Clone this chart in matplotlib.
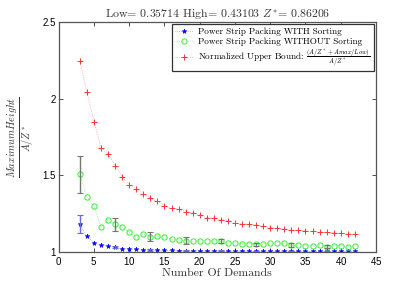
import matplotlib
matplotlib.use("Agg")
import matplotlib.pyplot as plt

# data
demands = list(range(3, 43))

with_sorting = [1.181, 1.104, 1.057, 1.046, 1.040, 1.031, 1.022, 1.020, 1.017, 1.015,
                1.013, 1.012, 1.011, 1.010, 1.009, 1.009, 1.008, 1.008, 1.008, 1.007,
                1.007, 1.007, 1.007, 1.007, 1.006, 1.006, 1.006, 1.006, 1.006, 1.006,
                1.006, 1.006, 1.005, 1.005, 1.005, 1.005, 1.005, 1.005, 1.005, 1.005]

without_sorting = [1.507, 1.361, 1.302, 1.165, 1.211, 1.181, 1.163, 1.128, 1.098, 1.115,
                   1.100, 1.104, 1.098, 1.083, 1.078, 1.074, 1.070, 1.072, 1.072, 1.074,
                   1.070, 1.061, 1.061, 1.052, 1.054, 1.050, 1.052, 1.057, 1.061, 1.057,
                   1.044, 1.046, 1.041, 1.041, 1.048, 1.033, 1.039, 1.041, 1.035, 1.039]

upper_bound = [2.246, 2.045, 1.850, 1.680, 1.640, 1.563, 1.490, 1.440, 1.410, 1.380,
               1.350, 1.330, 1.302, 1.285, 1.279, 1.259, 1.257, 1.241, 1.224, 1.220,
               1.211, 1.205, 1.188, 1.183, 1.181, 1.177, 1.168, 1.159, 1.154, 1.148,
               1.144, 1.141, 1.139, 1.135, 1.128, 1.128, 1.126, 1.122, 1.117, 1.117]

err_x = [3, 8, 13, 18, 23, 28, 33, 38]
err_with = [0.060, 0.008, 0.005, 0.004, 0.003, 0.003, 0.002, 0.002]
err_without = [0.120, 0.044, 0.030, 0.022, 0.013, 0.011, 0.012, 0.010]

plt.rcParams["font.family"] = "serif"
plt.rcParams["font.serif"] = ["cmr10", "DejaVu Serif"]
plt.rcParams["mathtext.fontset"] = "cm"
plt.rcParams["axes.formatter.use_mathtext"] = True

fig = plt.figure(figsize=(4.15, 2.83), dpi=100)
ax = fig.add_axes([0.1414, 0.1095, 0.7646, 0.8125])

ax.plot(demands, with_sorting, linestyle=":", linewidth=0.5, color="#8888ff",
        marker="*", markersize=3.5, markerfacecolor="#0000ff", markeredgecolor="#0000ff",
        markeredgewidth=0.4, label="Power Strip Packing WITH Sorting")
ax.plot(demands, without_sorting, linestyle=":", linewidth=0.5, color="#77ee77",
        marker="o", markersize=3.8, markerfacecolor="none", markeredgecolor="#33ee33",
        markeredgewidth=0.7, label="Power Strip Packing WITHOUT Sorting")
ax.plot(demands, upper_bound, linestyle=":", linewidth=0.5, color="#ff8888",
        marker="+", markersize=4.5, markeredgecolor="#ff3333", markeredgewidth=0.7,
        label=r"Normalized Upper Bound: $\frac{(A/Z^*+Amax/Low)}{A/Z^*}$")

y_with = [with_sorting[demands.index(x)] for x in err_x]
y_without = [without_sorting[demands.index(x)] for x in err_x]
ax.errorbar(err_x, y_with, yerr=err_with, fmt="none", ecolor="#6a6ad8",
            elinewidth=1.0, capsize=2.5, capthick=0.8)
ax.errorbar(err_x, y_without, yerr=err_without, fmt="none", ecolor="#6f7a6f",
            elinewidth=1.0, capsize=2.5, capthick=0.8)

ax.set_xlim(0, 45)
ax.set_ylim(1, 2.5)
ax.set_xticks(range(0, 46, 5))
ax.set_yticks([1, 1.5, 2, 2.5])
ax.set_yticklabels(["1", "1.5", "2", "2.5"])
ax.tick_params(direction="in", top=True, right=True, length=3, width=0.6,
               labelsize=7, pad=2, colors="#333333", labelcolor="black")
for lab in ax.get_xticklabels() + ax.get_yticklabels():
    lab.set_fontfamily("Liberation Sans")
for s in ax.spines.values():
    s.set_color("#555555")
    s.set_linewidth(0.9)

ax.set_xlabel("Number Of Demands", fontsize=8.5, labelpad=1, color="#333333")
ax.set_ylabel(r"$\frac{Maximum Height}{A/Z^*}$", fontsize=10.5, labelpad=5, color="#333333")
ax.set_title(r"Low= 0.35714 High= 0.43103 $Z^{*}$= 0.86206", fontsize=8.5, pad=3,
             color="#333333")

leg = ax.legend(loc="upper right", fontsize=6.6, fancybox=False, framealpha=1,
                edgecolor="#333333", borderpad=0.35, labelspacing=0.15,
                handlelength=2.0, handletextpad=0.5, borderaxespad=0.25)
leg.get_frame().set_linewidth(0.9)

plt.savefig("out.png", dpi=100)
